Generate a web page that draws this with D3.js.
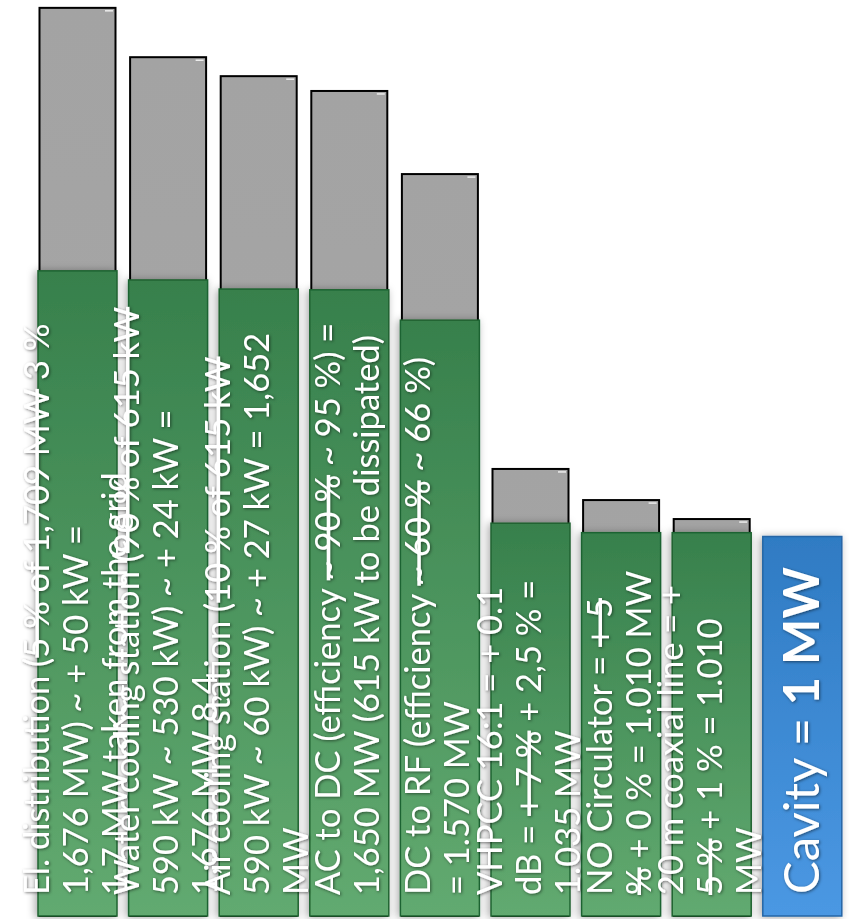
<!DOCTYPE html>
<html>
<head>
<meta charset="utf-8">
<script src="https://cdn.jsdelivr.net/npm/d3@7"></script>
<style>
  html, body { margin: 0; padding: 0; background: #ffffff; }
  svg { display: block; }
</style>
</head>
<body>
<div id="chart"></div>
<script>
// Power chain from the grid down to the cavity (MW)
const stages = ["El. distribution", "Water cooling", "Air cooling", "AC to DC", "DC to RF",
                "VHPCC", "Circulator", "Coaxial line", "Cavity"];
// earlier estimate of the power needed at each stage (grey columns)
const previousMW = [2.393, 2.263, 2.213, 2.174, 1.955, 1.178, 1.096, 1.046, null];
// revised power at each stage (green / blue boxes)
const currentMW = [1.7, 1.676, 1.652, 1.650, 1.570, 1.035, 1.010, 1.010, 1.0];

// box texts: one array per stage, lines made of [text, struck-through]
const stageText = [
  [[["El. distribution (", 0], ["5 % of 1,709 MW", 1], [" 3 %", 0]],
   [["1,676 MW) ~ + 50 kW =", 0]],
   [["1,7 MW taken from the grid", 0]]],
  [[["Water cooling station (", 0], ["90 % of 615 kW", 1]],
   [["590 kW ~ 530 kW) ~ + 24 kW =", 0]],
   [["1,676 MW 8,4", 0]]],
  [[["Air cooling station (", 0], ["10 % of 615 kW", 1]],
   [["590 kW ~ 60 kW) ~ + 27 kW = 1,652", 0]],
   [["MW", 0]]],
  [[["AC to DC (efficiency ", 0], ["~ 90 %", 1], [" ~ 95 %) =", 0]],
   [["1,650 MW (615 kW to be dissipated)", 0]]],
  [[["DC to RF (efficiency ", 0], ["~ 60 %", 1], [" ~ 66 %)", 0]],
   [["= 1.570 MW", 0]]],
  [[["VHPCC 16:1 = + 0.1", 0]],
   [["dB = ", 0], ["+ 7 %", 1], [" + 2,5 % =", 0]],
   [["1.035 MW", 0]]],
  [[["NO Circulator = ", 0], ["+ 5", 1]],
   [["%", 1], [" + 0 % = 1.010 MW", 0]]],
  [[["20 m coaxial line = +", 0]],
   [["5 %", 1], [" + 1 % = 1.010", 0]],
   [["MW", 0]]]
];
const cavityText = [["Cavity = ", 400], ["1 MW", 700]];

const W = 849, H = 919;
const baseY = 916;

const svg = d3.select("#chart").append("svg")
  .attr("width", W).attr("height", H)
  .attr("font-family", "Lato, 'Open Sans', sans-serif");

const x = d3.scaleBand().domain(stages)
  .range([32.2, 847.6]).paddingInner(0.128).paddingOuter(0.064);
const y = d3.scaleLinear().domain([0, 2.4]).range([baseY, baseY - 2.4 * 379.5]);

// ---- defs ----
const defs = svg.append("defs");
const gGreen = defs.append("linearGradient").attr("id", "greenFill")
  .attr("x1", 0).attr("y1", 0).attr("x2", 0).attr("y2", 1);
gGreen.append("stop").attr("offset", 0).attr("stop-color", "#37804c");
gGreen.append("stop").attr("offset", 1).attr("stop-color", "#62aa70");
const gBlue = defs.append("linearGradient").attr("id", "blueFill")
  .attr("x1", 0).attr("y1", 0).attr("x2", 0).attr("y2", 1);
gBlue.append("stop").attr("offset", 0).attr("stop-color", "#2f7bc3");
gBlue.append("stop").attr("offset", 1).attr("stop-color", "#4b98e3");
const gGrey = defs.append("linearGradient").attr("id", "greyFill")
  .attr("x1", 0).attr("y1", 0).attr("x2", 0).attr("y2", 1);
gGrey.append("stop").attr("offset", 0).attr("stop-color", "#a3a3a3");
gGrey.append("stop").attr("offset", 1).attr("stop-color", "#a8a8a8");

const boxShadow = defs.append("filter").attr("id", "boxShadow")
  .attr("x", "-30%").attr("y", "-5%").attr("width", "160%").attr("height", "110%");
boxShadow.append("feDropShadow").attr("dx", -2).attr("dy", 1)
  .attr("stdDeviation", 4).attr("flood-color", "#000").attr("flood-opacity", 0.35);

const textShadow = defs.append("filter").attr("id", "textShadow")
  .attr("x", "-5%").attr("y", "-30%").attr("width", "110%").attr("height", "160%");
textShadow.append("feDropShadow").attr("dx", 1).attr("dy", 1)
  .attr("stdDeviation", 1.6).attr("flood-color", "#000").attr("flood-opacity", 0.5);

// ---- grey columns (previous estimate) ----
const greyIdx = d3.range(stages.length).filter(i => previousMW[i] != null);
svg.append("g").selectAll("rect").data(greyIdx).join("rect")
  .attr("x", i => x(stages[i]) + 1.5)
  .attr("y", i => y(previousMW[i]))
  .attr("width", x.bandwidth() - 3)
  .attr("height", i => y(0) - y(previousMW[i]))
  .attr("fill", "url(#greyFill)")
  .attr("stroke", "#000").attr("stroke-width", 2);
// small highlight at the top corner of each column
svg.append("g").selectAll("line").data(greyIdx).join("line")
  .attr("x1", i => x(stages[i]) + x.bandwidth() - 12)
  .attr("x2", i => x(stages[i]) + x.bandwidth() - 4)
  .attr("y1", i => y(previousMW[i]) + 3)
  .attr("y2", i => y(previousMW[i]) + 3)
  .attr("stroke", "#fff").attr("stroke-width", 1.2);

// ---- boxes for the revised power ----
svg.append("g").selectAll("rect").data(d3.range(stages.length)).join("rect")
  .attr("x", i => x(stages[i]))
  .attr("y", i => y(currentMW[i]))
  .attr("width", x.bandwidth())
  .attr("height", i => y(0) - y(currentMW[i]))
  .attr("fill", i => i === stages.length - 1 ? "url(#blueFill)" : "url(#greenFill)")
  .attr("stroke", i => i === stages.length - 1 ? "#2566a6" : "#1f6331")
  .attr("stroke-width", 1.5)
  .attr("filter", "url(#boxShadow)");

// ---- rotated texts ----
const fs = 34.5, pitch = 39;
const textLayer = svg.append("g").attr("fill", "#fff").attr("filter", "url(#textShadow)");
stageText.forEach((lines, i) => {
  const cx = x(stages[i]) + x.bandwidth() / 2;
  const n = lines.length;
  lines.forEach((segs, j) => {
    const base = cx + 10 + (j - (n - 1) / 2) * pitch;
    const t = textLayer.append("text")
      .attr("transform", "rotate(-90)")
      .attr("x", -(baseY - 21)).attr("y", base)
      .attr("font-size", fs)
      .style("white-space", "pre");
    segs.forEach(([s, strike]) => {
      t.append("tspan").text(s)
        .style("text-decoration", strike ? "line-through" : null);
    });
  });
});

// cavity box text
{
  const i = stages.length - 1;
  const cx = x(stages[i]) + x.bandwidth() / 2;
  const t = textLayer.append("text")
    .attr("transform", "rotate(-90)")
    .attr("x", -(baseY - 22)).attr("y", cx + 17)
    .attr("font-size", 49)
    .style("white-space", "pre");
  cavityText.forEach(([s, w]) => t.append("tspan").text(s).attr("font-weight", w));
}
</script>
</body>
</html>
